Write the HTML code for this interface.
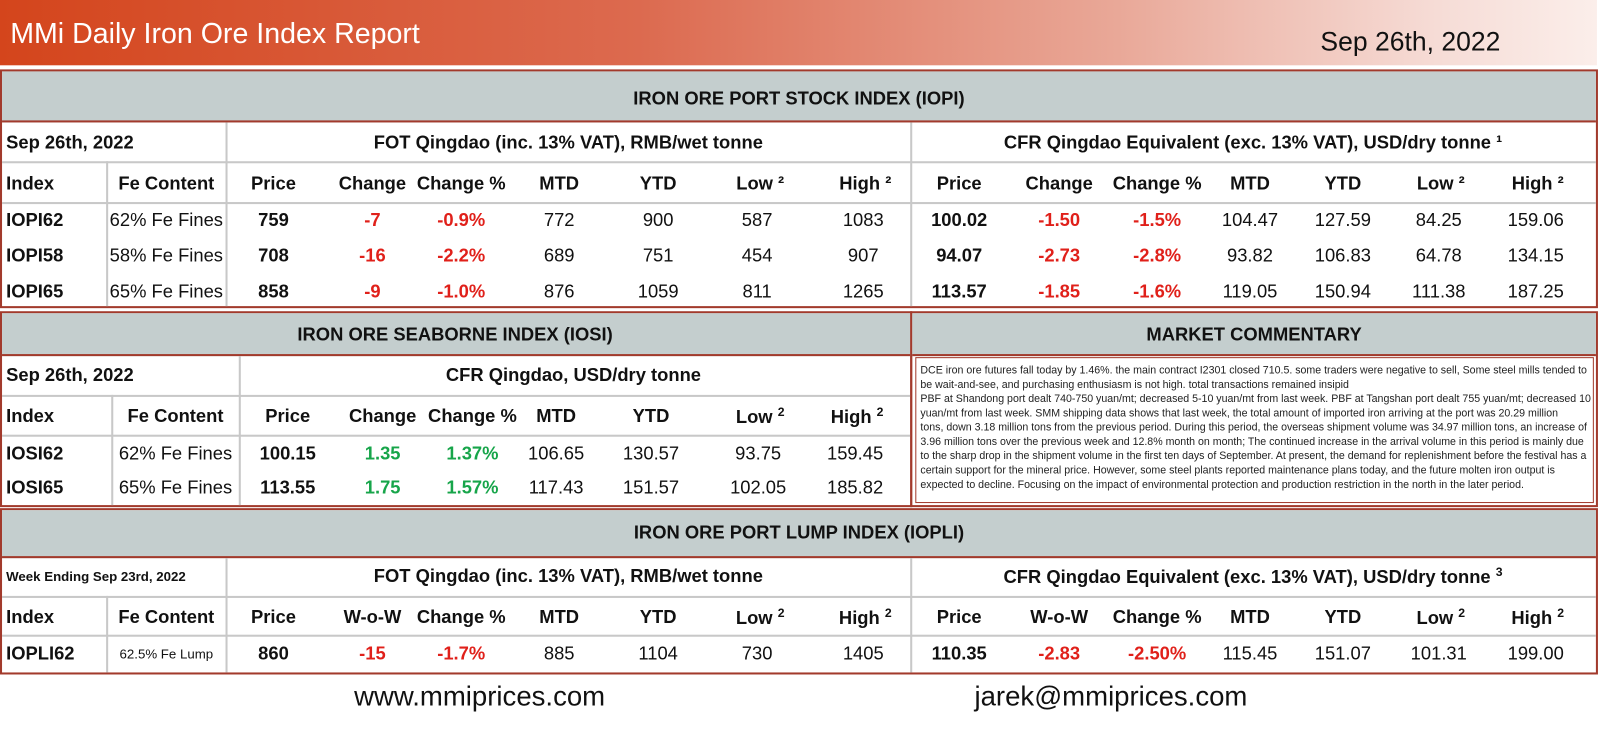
<!DOCTYPE html>
<html><head><meta charset="utf-8"><style>
body{margin:0;width:1600px;height:732px;background:#fff;position:relative;overflow:hidden;font-family:"Liberation Sans",Arial,sans-serif;color:#111}
#w{position:absolute;left:0;top:0;width:1568px;height:718px;transform:scale(1.0204);transform-origin:0 0}
.a{position:absolute}
.c{position:absolute;transform:translate(-50%,-50%);white-space:nowrap;font-size:18px}
.l{position:absolute;transform:translateY(-50%);white-space:nowrap;font-size:18px}
.b{font-weight:bold}
.r{color:#e0201a;font-weight:bold}
.g{color:#17a54a;font-weight:bold}
.box{position:absolute;border:2px solid #a23a2c;box-sizing:border-box}
.band{position:absolute;background:#c4cece;border-bottom:2px solid #a23a2c}
.hl{position:absolute;height:2px;background:#c8c8c8}
.vl{position:absolute;width:2px;background:#c8c8c8}
sup{font-size:12px}
.com{position:absolute;left:902px;top:357px;font-family:"Liberation Sans Narrow","Liberation Sans",sans-serif;font-size:10.4px;line-height:14px;white-space:nowrap;color:#222}
</style></head><body><div id="w">
<div class="a" style="left:0;top:0;width:1565px;height:64px;background:linear-gradient(90deg,#d4451c 0%,#dc6a4f 40%,#e9a898 70%,#f6dcd6 90%,#fbeeea 100%)"></div>
<div class="l" style="left:10px;top:33px;color:#fff;font-size:28px">MMi Daily Iron Ore Index Report</div>
<div class="l" style="left:1294px;top:41px;font-size:26px">Sep 26th, 2022</div>

<!-- IOPI -->
<div class="box" style="left:0;top:68px;width:1566px;height:234px"></div>
<div class="band" style="left:2px;top:70px;width:1562px;height:48px"></div>
<div class="c b" style="left:783px;top:97px">IRON ORE PORT STOCK INDEX (IOPI)</div>
<div class="hl" style="left:2px;top:158px;width:1562px"></div>
<div class="hl" style="left:2px;top:198px;width:1562px"></div>
<div class="vl" style="left:104px;top:158px;height:142px"></div>
<div class="vl" style="left:221px;top:120px;height:180px"></div>
<div class="vl" style="left:892px;top:120px;height:180px"></div>
<div class="l b" style="left:6px;top:140px">Sep 26th, 2022</div>
<div class="c b" style="left:557px;top:140px">FOT Qingdao (inc. 13% VAT), RMB/wet tonne</div>
<div class="c b" style="left:1228px;top:140px">CFR Qingdao Equivalent (exc. 13% VAT), USD/dry tonne ¹</div>
<div class="l b" style="left:6px;top:180px">Index</div><div class="c b" style="left:163px;top:180px">Fe Content</div>
<div class="c b" style="left:268px;top:180px">Price</div><div class="c b" style="left:365px;top:180px">Change</div><div class="c b" style="left:452px;top:180px">Change %</div><div class="c b" style="left:548px;top:180px">MTD</div><div class="c b" style="left:645px;top:180px">YTD</div><div class="c b" style="left:745px;top:180px">Low ²</div><div class="c b" style="left:848px;top:180px">High ²</div>
<div class="c b" style="left:940px;top:180px">Price</div><div class="c b" style="left:1038px;top:180px">Change</div><div class="c b" style="left:1134px;top:180px">Change %</div><div class="c b" style="left:1225px;top:180px">MTD</div><div class="c b" style="left:1316px;top:180px">YTD</div><div class="c b" style="left:1412px;top:180px">Low ²</div><div class="c b" style="left:1507px;top:180px">High ²</div>

<div class="l b" style="left:6px;top:216px">IOPI62</div><div class="c" style="left:163px;top:216px">62% Fe Fines</div><div class="c b" style="left:268px;top:216px">759</div><div class="c r" style="left:365px;top:216px">-7</div><div class="c r" style="left:452px;top:216px">-0.9%</div><div class="c" style="left:548px;top:216px">772</div><div class="c" style="left:645px;top:216px">900</div><div class="c" style="left:742px;top:216px">587</div><div class="c" style="left:846px;top:216px">1083</div><div class="c b" style="left:940px;top:216px">100.02</div><div class="c r" style="left:1038px;top:216px">-1.50</div><div class="c r" style="left:1134px;top:216px">-1.5%</div><div class="c" style="left:1225px;top:216px">104.47</div><div class="c" style="left:1316px;top:216px">127.59</div><div class="c" style="left:1410px;top:216px">84.25</div><div class="c" style="left:1505px;top:216px">159.06</div>
<div class="l b" style="left:6px;top:251px">IOPI58</div><div class="c" style="left:163px;top:251px">58% Fe Fines</div><div class="c b" style="left:268px;top:251px">708</div><div class="c r" style="left:365px;top:251px">-16</div><div class="c r" style="left:452px;top:251px">-2.2%</div><div class="c" style="left:548px;top:251px">689</div><div class="c" style="left:645px;top:251px">751</div><div class="c" style="left:742px;top:251px">454</div><div class="c" style="left:846px;top:251px">907</div><div class="c b" style="left:940px;top:251px">94.07</div><div class="c r" style="left:1038px;top:251px">-2.73</div><div class="c r" style="left:1134px;top:251px">-2.8%</div><div class="c" style="left:1225px;top:251px">93.82</div><div class="c" style="left:1316px;top:251px">106.83</div><div class="c" style="left:1410px;top:251px">64.78</div><div class="c" style="left:1505px;top:251px">134.15</div>
<div class="l b" style="left:6px;top:286px">IOPI65</div><div class="c" style="left:163px;top:286px">65% Fe Fines</div><div class="c b" style="left:268px;top:286px">858</div><div class="c r" style="left:365px;top:286px">-9</div><div class="c r" style="left:452px;top:286px">-1.0%</div><div class="c" style="left:548px;top:286px">876</div><div class="c" style="left:645px;top:286px">1059</div><div class="c" style="left:742px;top:286px">811</div><div class="c" style="left:846px;top:286px">1265</div><div class="c b" style="left:940px;top:286px">113.57</div><div class="c r" style="left:1038px;top:286px">-1.85</div><div class="c r" style="left:1134px;top:286px">-1.6%</div><div class="c" style="left:1225px;top:286px">119.05</div><div class="c" style="left:1316px;top:286px">150.94</div><div class="c" style="left:1410px;top:286px">111.38</div><div class="c" style="left:1505px;top:286px">187.25</div>

<!-- IOSI -->
<div class="box" style="left:0;top:305px;width:894px;height:192px"></div>
<div class="band" style="left:2px;top:307px;width:890px;height:40px"></div>
<div class="c b" style="left:446px;top:328px">IRON ORE SEABORNE INDEX (IOSI)</div>
<div class="hl" style="left:2px;top:387px;width:890px"></div>
<div class="hl" style="left:2px;top:426px;width:890px"></div>
<div class="vl" style="left:109px;top:387px;height:108px"></div>
<div class="vl" style="left:234px;top:349px;height:146px"></div>
<div class="l b" style="left:6px;top:368px">Sep 26th, 2022</div>
<div class="c b" style="left:562px;top:368px">CFR Qingdao, USD/dry tonne</div>
<div class="l b" style="left:6px;top:408px">Index</div><div class="c b" style="left:172px;top:408px">Fe Content</div>
<div class="c b" style="left:282px;top:408px">Price</div><div class="c b" style="left:375px;top:408px">Change</div><div class="c b" style="left:463px;top:408px">Change %</div><div class="c b" style="left:545px;top:408px">MTD</div><div class="c b" style="left:638px;top:408px">YTD</div><div class="c b" style="left:745px;top:408px">Low <sup>2</sup></div><div class="c b" style="left:840px;top:408px">High <sup>2</sup></div>
<div class="l b" style="left:6px;top:445px">IOSI62</div><div class="c" style="left:172px;top:445px">62% Fe Fines</div><div class="c b" style="left:282px;top:445px">100.15</div><div class="c g" style="left:375px;top:445px">1.35</div><div class="c g" style="left:463px;top:445px">1.37%</div><div class="c" style="left:545px;top:445px">106.65</div><div class="c" style="left:638px;top:445px">130.57</div><div class="c" style="left:743px;top:445px">93.75</div><div class="c" style="left:838px;top:445px">159.45</div>
<div class="l b" style="left:6px;top:478px">IOSI65</div><div class="c" style="left:172px;top:478px">65% Fe Fines</div><div class="c b" style="left:282px;top:478px">113.55</div><div class="c g" style="left:375px;top:478px">1.75</div><div class="c g" style="left:463px;top:478px">1.57%</div><div class="c" style="left:545px;top:478px">117.43</div><div class="c" style="left:638px;top:478px">151.57</div><div class="c" style="left:743px;top:478px">102.05</div><div class="c" style="left:838px;top:478px">185.82</div>

<!-- Commentary -->
<div class="box" style="left:892px;top:305px;width:674px;height:192px"></div>
<div class="band" style="left:894px;top:307px;width:670px;height:40px"></div>
<div class="c b" style="left:1229px;top:328px">MARKET COMMENTARY</div>
<div class="a" style="left:897px;top:350px;width:665px;height:143px;border:1px solid #a23a2c;box-sizing:border-box"></div>
<div class="com">DCE iron ore futures fall today by 1.46%. the main contract I2301 closed 710.5. some traders were negative to sell, Some steel mills tended to<br>be wait-and-see, and purchasing enthusiasm is not high. total transactions remained insipid<br>PBF at Shandong port dealt 740-750 yuan/mt; decreased 5-10 yuan/mt from last week. PBF at Tangshan port dealt 755 yuan/mt; decreased 10<br>yuan/mt from last week. SMM shipping data shows that last week, the total amount of imported iron arriving at the port was 20.29 million<br>tons, down 3.18 million tons from the previous period. During this period, the overseas shipment volume was 34.97 million tons, an increase of<br>3.96 million tons over the previous week and 12.8% month on month; The continued increase in the arrival volume in this period is mainly due<br>to the sharp drop in the shipment volume in the first ten days of September. At present, the demand for replenishment before the festival has a<br>certain support for the mineral price. However, some steel plants reported maintenance plans today, and the future molten iron output is<br>expected to decline. Focusing on the impact of environmental protection and production restriction in the north in the later period.</div>

<!-- IOPLI -->
<div class="box" style="left:0;top:498px;width:1566px;height:163px"></div>
<div class="band" style="left:2px;top:500px;width:1562px;height:45px"></div>
<div class="c b" style="left:783px;top:522px">IRON ORE PORT LUMP INDEX (IOPLI)</div>
<div class="hl" style="left:2px;top:584px;width:1562px"></div>
<div class="hl" style="left:2px;top:622px;width:1562px"></div>
<div class="vl" style="left:104px;top:584px;height:75px"></div>
<div class="vl" style="left:221px;top:547px;height:112px"></div>
<div class="vl" style="left:892px;top:547px;height:112px"></div>
<div class="l b" style="left:6px;top:565px;font-size:13px">Week Ending Sep 23rd, 2022</div>
<div class="c b" style="left:557px;top:565px">FOT Qingdao (inc. 13% VAT), RMB/wet tonne</div>
<div class="c b" style="left:1228px;top:565px">CFR Qingdao Equivalent (exc. 13% VAT), USD/dry tonne <sup>3</sup></div>
<div class="l b" style="left:6px;top:605px">Index</div><div class="c b" style="left:163px;top:605px">Fe Content</div>
<div class="c b" style="left:268px;top:605px">Price</div><div class="c b" style="left:365px;top:605px">W-o-W</div><div class="c b" style="left:452px;top:605px">Change %</div><div class="c b" style="left:548px;top:605px">MTD</div><div class="c b" style="left:645px;top:605px">YTD</div><div class="c b" style="left:745px;top:605px">Low <sup>2</sup></div><div class="c b" style="left:848px;top:605px">High <sup>2</sup></div>
<div class="c b" style="left:940px;top:605px">Price</div><div class="c b" style="left:1038px;top:605px">W-o-W</div><div class="c b" style="left:1134px;top:605px">Change %</div><div class="c b" style="left:1225px;top:605px">MTD</div><div class="c b" style="left:1316px;top:605px">YTD</div><div class="c b" style="left:1412px;top:605px">Low <sup>2</sup></div><div class="c b" style="left:1507px;top:605px">High <sup>2</sup></div>
<div class="l b" style="left:6px;top:641px">IOPLI62</div><div class="c" style="left:163px;top:641px;font-size:13px">62.5% Fe Lump</div><div class="c b" style="left:268px;top:641px">860</div><div class="c r" style="left:365px;top:641px">-15</div><div class="c r" style="left:452px;top:641px">-1.7%</div><div class="c" style="left:548px;top:641px">885</div><div class="c" style="left:645px;top:641px">1104</div><div class="c" style="left:742px;top:641px">730</div><div class="c" style="left:846px;top:641px">1405</div><div class="c b" style="left:940px;top:641px">110.35</div><div class="c r" style="left:1038px;top:641px">-2.83</div><div class="c r" style="left:1134px;top:641px">-2.50%</div><div class="c" style="left:1225px;top:641px">115.45</div><div class="c" style="left:1316px;top:641px">151.07</div><div class="c" style="left:1410px;top:641px">101.31</div><div class="c" style="left:1505px;top:641px">199.00</div>

<div class="l" style="left:347px;top:683px;font-size:27px">www.mmiprices.com</div>
<div class="l" style="left:955px;top:683px;font-size:27px">jarek@mmiprices.com</div>
</div></body></html>
